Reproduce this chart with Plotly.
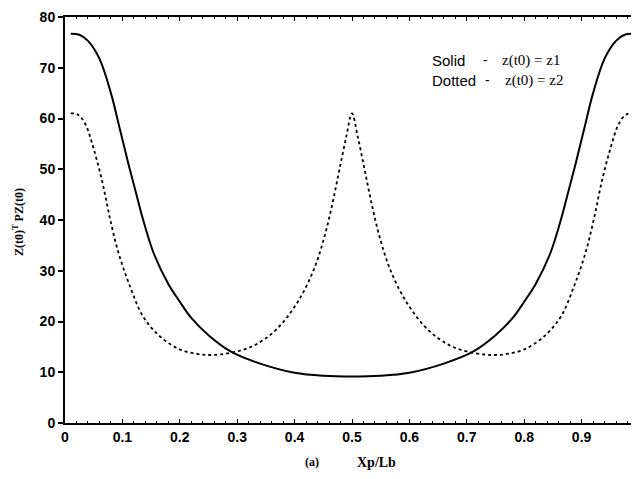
import plotly.graph_objects as go

# Solid curve: z(t0) = z1
solid_x = [0.01, 0.025, 0.04, 0.06, 0.08, 0.095, 0.11, 0.125, 0.135, 0.155, 0.18, 0.2, 0.22, 0.25,
           0.29, 0.34, 0.4, 0.45, 0.5, 0.55, 0.6, 0.66, 0.71, 0.75, 0.78, 0.8, 0.82, 0.845, 0.865,
           0.875, 0.89, 0.905, 0.92, 0.94, 0.96, 0.975, 0.99]
solid_y = [76.7, 76.5, 75.3, 71.8, 65.0, 58.2, 51.3, 44.8, 40.5, 33.3, 27.4, 23.9, 20.7, 17.3,
           14.0, 11.7, 9.9, 9.3, 9.15, 9.3, 9.9, 11.7, 14.0, 17.3, 20.7, 23.9, 27.4, 33.3, 40.5,
           44.8, 51.3, 58.2, 65.0, 71.8, 75.3, 76.5, 76.7]

# Dotted curve: z(t0) = z2
dotted_x = [0.01, 0.022, 0.035, 0.05, 0.065, 0.078, 0.093, 0.113, 0.136, 0.166, 0.2, 0.23, 0.25,
            0.27, 0.3, 0.33, 0.367, 0.404, 0.433, 0.452, 0.466, 0.478, 0.49, 0.5, 0.51, 0.522,
            0.534, 0.548, 0.567, 0.596, 0.633, 0.67, 0.7, 0.73, 0.75, 0.77, 0.8, 0.834, 0.864,
            0.887, 0.907, 0.922, 0.935, 0.95, 0.965, 0.978, 0.99]
dotted_y = [61.0, 60.8, 59.0, 54.0, 47.5, 40.5, 33.6, 27.0, 21.0, 17.0, 14.5, 13.6, 13.4,
            13.5, 14.1, 15.3, 18.3, 23.6, 30.1, 36.7, 43.3, 49.9, 56.4, 61.0, 56.4, 49.9,
            43.3, 36.7, 30.1, 23.6, 18.3, 15.3, 14.1, 13.5, 13.4, 13.6, 14.5, 17.0, 21.0,
            27.0, 33.6, 40.5, 47.5, 54.0, 59.0, 60.8, 61.0]

x_ticks = [0, 0.1, 0.2, 0.3, 0.4, 0.5, 0.6, 0.7, 0.8, 0.9]
x_tick_text = ["0", "0.1", "0.2", "0.3", "0.4", "0.5", "0.6", "0.7", "0.8", "0.9"]
y_ticks = [0, 10, 20, 30, 40, 50, 60, 70, 80]

fig = go.Figure()
fig.add_trace(go.Scatter(x=solid_x, y=solid_y, mode="lines", line_shape="spline",
                         line=dict(color="black", width=2), showlegend=False, hoverinfo="skip"))
fig.add_trace(go.Scatter(x=dotted_x, y=dotted_y, mode="lines", line_shape="spline",
                         line=dict(color="black", width=1.8, dash="3px,3px"),
                         showlegend=False, hoverinfo="skip"))

tickfont = dict(family="Liberation Sans", size=14, color="black", weight="bold")
serif = "Liberation Serif"

# The page body adds an 8px offset; window pixel positions are compensated below.
OFF = 8
W, H = 639, 479
L, R, T, B = 65 - OFF, OFF, 17 - OFF, H - (423 - OFF)

fig.update_layout(
    width=W, height=H,
    margin=dict(l=L, r=R, t=T, b=B, autoexpand=False),
    paper_bgcolor="white", plot_bgcolor="white",
    xaxis=dict(range=[0, 1], tickvals=x_ticks, ticktext=x_tick_text, showgrid=False,
               zeroline=False, showline=True, linecolor="black", linewidth=2, automargin=False,
               mirror="ticks", ticks="inside", ticklen=4, tickwidth=1.2, tickcolor="black",
               tickfont=tickfont,
               minor=dict(ticks="inside", ticklen=2, dtick=0.02, tickcolor="black")),
    yaxis=dict(range=[0, 80], tickvals=y_ticks, showgrid=False, zeroline=False, automargin=False,
               showline=True, linecolor="black", linewidth=2, ticks="outside", ticklen=5,
               tickwidth=1.5, tickcolor="black", tickfont=tickfont),
    yaxis2=dict(range=[0, 80], overlaying="y", side="right", tickvals=y_ticks, automargin=False,
                showticklabels=False, showgrid=False, zeroline=False, showline=False,
                ticks="inside", ticklen=5, tickwidth=1.2, tickcolor="black", anchor="x"),
)

# annotation positions given in window pixels
annotations = [
    dict(text="Z(t0)<sup>T</sup> PZ(t0)", x=18, y=222, xanchor="center", textangle=-90,
         showarrow=False, font=dict(family=serif, size=12, color="black", weight="bold")),
    dict(text="(a)", x=312, y=462, xanchor="center", showarrow=False,
         font=dict(family=serif, size=12, color="black", weight="bold")),
    dict(text="Xp/Lb", x=376, y=462, xanchor="center", showarrow=False,
         font=dict(family=serif, size=14, color="black", weight="bold")),
    dict(text="Solid", x=430, y=60, xanchor="left", showarrow=False,
         font=dict(family="Liberation Sans", size=15, color="black")),
    dict(text="-", x=485, y=60, xanchor="center", showarrow=False,
         font=dict(family="Liberation Sans", size=14, color="black")),
    dict(text="z(t0) = z1", x=500, y=60, xanchor="left", showarrow=False,
         font=dict(family=serif, size=15, color="black")),
    dict(text="Dotted", x=430, y=80, xanchor="left", showarrow=False,
         font=dict(family="Liberation Sans", size=15, color="black")),
    dict(text="-", x=487, y=80, xanchor="center", showarrow=False,
         font=dict(family="Liberation Sans", size=14, color="black")),
    dict(text="z(t0) = z2", x=503, y=80, xanchor="left", showarrow=False,
         font=dict(family=serif, size=15, color="black")),
]
pw, ph = W - L - R, H - T - B
for a in annotations:
    a["xref"] = "paper"
    a["yref"] = "paper"
    a["x"] = (a["x"] - OFF - L) / pw
    a["y"] = (H - B - (a["y"] - OFF)) / ph
    a["yanchor"] = "middle"
fig.update_layout(annotations=annotations)

fig.write_html("out.html")
